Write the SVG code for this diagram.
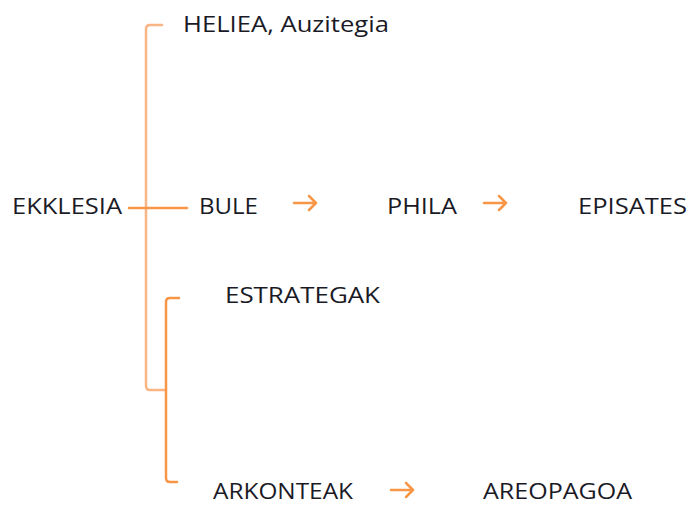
<svg xmlns="http://www.w3.org/2000/svg" width="689" height="505" viewBox="0 0 689 505">
<style>
text{font-family:"Open Sans","Liberation Sans",sans-serif;font-size:22px;fill:#1a1a26}
.ln{fill:none;stroke:#F79646;stroke-width:2.5;stroke-linecap:round;stroke-linejoin:round}
.lt{stroke:#F9B584}
.ar{fill:none;stroke:#F79646;stroke-width:2.5;stroke-linecap:round;stroke-linejoin:round}
</style>
<rect width="689" height="505" fill="#fff"/>
<g id="connectors">
<path class="ln lt" d="M162,25 H150 Q146,25 146,29 V386 Q146,390 150,390 H166"/>
<path class="ln" d="M129,208 H187"/>
<path class="ln" d="M179,298 H170 Q166,298 166,302 V478 Q166,482 170,482 H177"/>
<path class="ar" d="M294,203 H316 M309,196 L316,203 L309,210"/>
<path class="ar" d="M484,203 H506 M499,196 L506,203 L499,210"/>
<path class="ar" d="M391,490 H413 M406,483 L413,490 L406,497"/>
</g>
<g id="heliea"><text x="183" y="32" textLength="206" lengthAdjust="spacingAndGlyphs">HELIEA, Auzitegia</text></g>
<g id="ekklesia"><text x="12" y="214" textLength="110" lengthAdjust="spacingAndGlyphs">EKKLESIA</text></g>
<g id="bule"><text x="199" y="214" textLength="59" lengthAdjust="spacingAndGlyphs">BULE</text></g>
<g id="phila"><text x="387" y="214" textLength="70" lengthAdjust="spacingAndGlyphs">PHILA</text></g>
<g id="episates"><text x="578" y="214" textLength="109" lengthAdjust="spacingAndGlyphs">EPISATES</text></g>
<g id="estrategak"><text x="225" y="303" textLength="155" lengthAdjust="spacingAndGlyphs">ESTRATEGAK</text></g>
<g id="arkonteak"><text x="213" y="499" textLength="140" lengthAdjust="spacingAndGlyphs">ARKONTEAK</text></g>
<g id="areopagoa"><text x="483" y="499" textLength="149" lengthAdjust="spacingAndGlyphs">AREOPAGOA</text></g>
</svg>
